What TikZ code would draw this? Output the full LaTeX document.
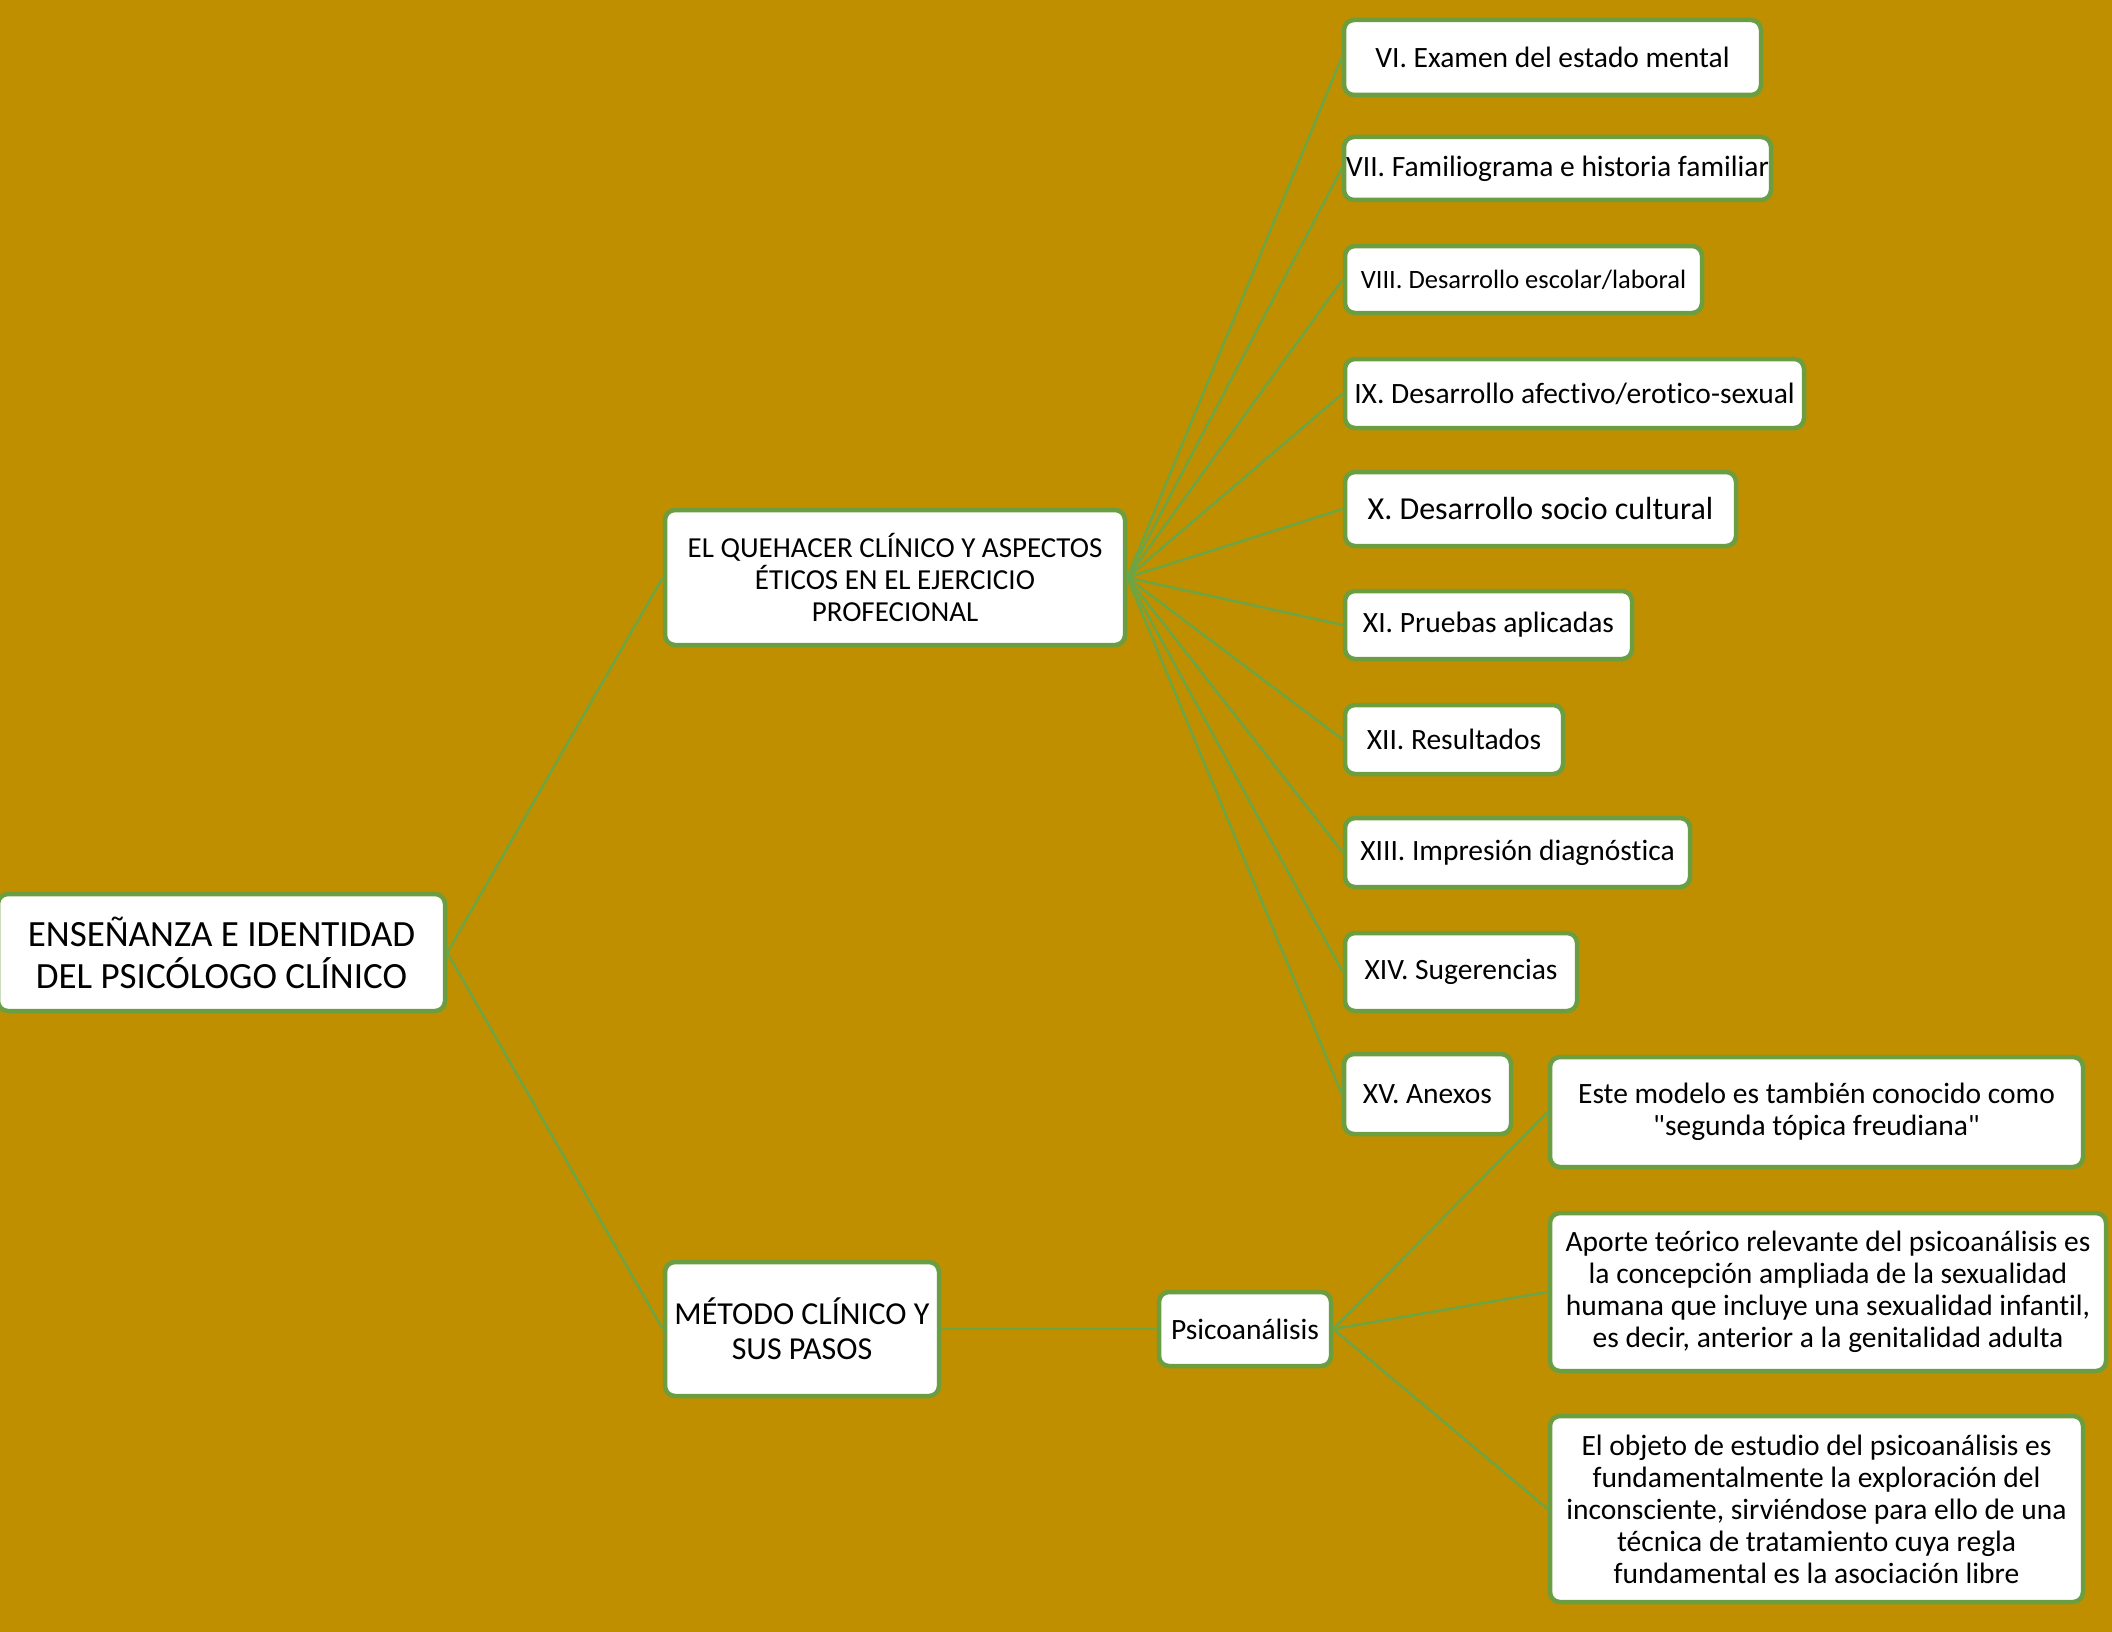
\documentclass[tikz,border=0pt]{standalone}
\usepackage{fontspec}
\setmainfont{Carlito}[Ligatures={NoCommon,TeXOff}]
\definecolor{bg}{RGB}{191,143,0}
\definecolor{gborder}{RGB}{106,158,64}
\definecolor{gline}{RGB}{110,165,68}
\newcommand{\fs}[2]{\fontsize{#1}{#2}\selectfont}
\tikzset{
  box/.style={draw=gborder, line width=4.5pt, fill=white, rounded corners=10pt, align=center, inner sep=2pt, text=black},
  conn/.style={draw=gline, line width=2.5pt},
}
\begin{document}
\begin{tikzpicture}[x=1pt,y=-1pt]
\fill[bg] (0,0) rectangle (2112,1632);
\useasboundingbox (0,0) rectangle (2112,1632);
% level 0
\node[box, minimum width=447pt, minimum height=117pt, font=\fs{37}{42}] (root) at (221.5,952.5) {ENSEÑANZA E IDENTIDAD\\DEL PSICÓLOGO CLÍNICO};
% level 1
\node[box, minimum width=460pt, minimum height=135pt, font=\fs{29}{32}] (que) at (895,577.5) {EL QUEHACER CLÍNICO Y ASPECTOS\\ÉTICOS EN EL EJERCICIO\\PROFECIONAL};
\node[box, minimum width=274pt, minimum height=134pt, font=\fs{32}{35}] (met) at (802,1329) {MÉTODO CLÍNICO Y\\SUS PASOS};
% list
\node[box, minimum width=417pt, minimum height=75pt, font=\fs{29.5}{35}] (vi) at (1552.5,57.5) {VI. Examen del estado mental};
\node[box, minimum width=427pt, minimum height=63pt, font=\fs{29.5}{35}, inner sep=0pt] (vii) at (1557.5,168.5) {VII. Familiograma e historia familiar};
\node[box, minimum width=357pt, minimum height=67pt, font=\fs{26.5}{31}] (viii) at (1523.5,279.5) {VIII. Desarrollo escolar/laboral};
\node[box, minimum width=459pt, minimum height=69pt, font=\fs{29.5}{35}] (ix) at (1574.5,393.5) {IX. Desarrollo afectivo/erotico-sexual};
\node[box, minimum width=391pt, minimum height=74pt, font=\fs{32}{38}] (x) at (1540.5,509) {X. Desarrollo socio cultural};
\node[box, minimum width=287pt, minimum height=68pt, font=\fs{29.5}{35}] (xi) at (1488.5,625) {XI. Pruebas aplicadas};
\node[box, minimum width=218pt, minimum height=69pt, font=\fs{29.5}{35}] (xii) at (1454,739.5) {XII. Resultados};
\node[box, minimum width=345pt, minimum height=69pt, font=\fs{29.5}{35}] (xiii) at (1517.5,852.5) {XIII. Impresión diagnóstica};
\node[box, minimum width=232pt, minimum height=78pt, font=\fs{29.5}{35}] (xiv) at (1461,972) {XIV. Sugerencias};
\node[box, minimum width=167pt, minimum height=80pt, font=\fs{29.5}{35}] (xv) at (1427.5,1094) {XV. Anexos};
% psicoanalisis
\node[box, minimum width=172pt, minimum height=74pt, font=\fs{29.5}{35}] (psi) at (1245,1329) {Psicoanálisis};
\node[box, minimum width=533pt, minimum height=110pt, font=\fs{29.5}{32}] (este) at (1816.5,1112) {Este modelo es también conocido como\\"segunda tópica freudiana"};
\node[box, minimum width=556pt, minimum height=158pt, font=\fs{29.5}{32}] (apo) at (1828,1292) {Aporte teórico relevante del psicoanálisis es\\la concepción ampliada de la sexualidad\\humana que incluye una sexualidad infantil,\\es decir, anterior a la genitalidad adulta};
\node[box, minimum width=533pt, minimum height=186pt, font=\fs{29.5}{32}] (obj) at (1816.5,1509) {El objeto de estudio del psicoanálisis es\\fundamentalmente la exploración del\\inconsciente, sirviéndose para ello de una\\técnica de tratamiento cuya regla\\fundamental es la asociación libre};
% connectors
\foreach \t in {que,met} \draw[conn] (root.east) -- (\t.west);
\foreach \t in {vi,vii,viii,ix,x,xi,xii,xiii,xiv,xv} \draw[conn] (que.east) -- (\t.west);
\draw[conn] (met.east) -- (psi.west);
\foreach \t in {este,apo,obj} \draw[conn] (psi.east) -- (\t.west);
\end{tikzpicture}
\end{document}
